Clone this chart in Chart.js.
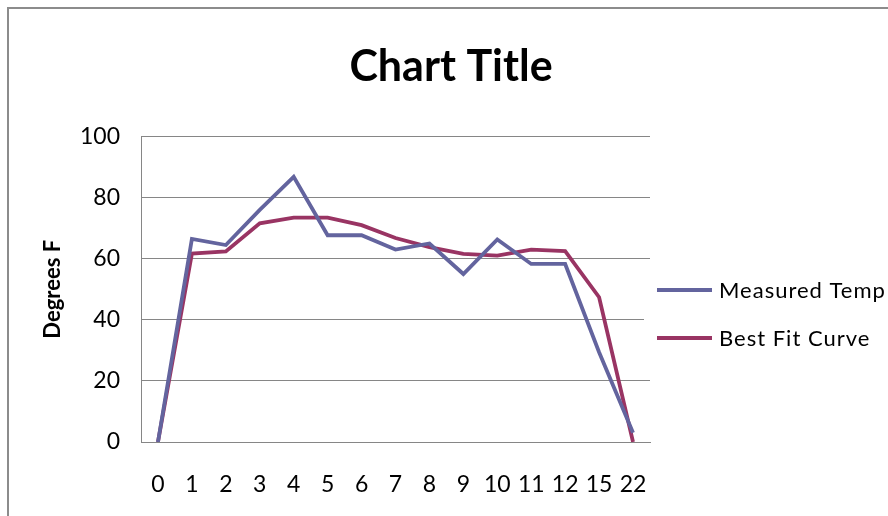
<!DOCTYPE html>
<html>
<head>
<meta charset="utf-8">
<script src="https://cdn.jsdelivr.net/npm/chart.js@4/dist/chart.umd.min.js"></script>
<style>
  html, body { margin: 0; padding: 0; background: #fff; overflow: hidden; }
  #wrap { position: relative; width: 888px; height: 516px; }
  #frame { position: absolute; left: 7px; top: 7px; width: 900px; height: 520px;
           border-left: 2px solid #8c8c8c; border-top: 2px solid #8c8c8c; }
  canvas { position: absolute; left: 0; top: 0; }
</style>
</head>
<body>
<div id="wrap">
  <div id="frame"></div>
  <canvas id="myChart" width="888" height="516"></canvas>
</div>
<script>
// values
const hours = ['0', '1', '2', '3', '4', '5', '6', '7', '8', '9', '10', '11', '12', '15', '22'];
const measuredTemp = [0, 66.5, 64.5, 76, 86.8, 67.7, 67.7, 63, 65, 55, 66.3, 58.3, 58.3, 29.4, 3];
const bestFit = [0, 61.7, 62.4, 71.6, 73.5, 73.5, 71, 66.8, 63.8, 61.6, 61, 63, 62.5, 47.4, 0];
const yTicks = [0, 20, 40, 60, 80, 100];

const FONT = 'Lato, Calibri, "Open Sans", sans-serif';
const GRID = '#868686';

// legend drawn like the office one: line swatch + label, clipped at the right edge
const sideLegend = {
    id: 'sideLegend',
    afterDraw(chart) {
        const ctx = chart.ctx;
        ctx.save();
        ctx.fillStyle = '#fff';
        ctx.fillRect(644, 268, 250, 94);
        chart.data.datasets.forEach((ds, i) => {
            const y = 290 + i * 48;
            ctx.strokeStyle = ds.borderColor;
            ctx.lineWidth = 3.8;
            ctx.beginPath();
            ctx.moveTo(657, y);
            ctx.lineTo(712, y);
            ctx.stroke();
            ctx.fillStyle = '#000';
            ctx.font = '22px ' + FONT;
            ctx.letterSpacing = '1px';
            ctx.textBaseline = 'middle';
            ctx.fillText(ds.label, 719, y + 1);
        });
        ctx.restore();
    }
};

const ctx = document.getElementById('myChart').getContext('2d');
new Chart(ctx, {
    type: 'line',
    data: {
        labels: hours,
        datasets: [
            {
                label: 'Measured Temp',
                data: measuredTemp,
                borderColor: '#63649e',
                backgroundColor: '#63649e',
                borderWidth: 3.8,
                pointRadius: 0,
                tension: 0,
                fill: false
            },
            {
                label: 'Best Fit Curve',
                data: bestFit,
                borderColor: '#993463',
                backgroundColor: '#993463',
                borderWidth: 3.8,
                pointRadius: 0,
                tension: 0,
                fill: false
            }
        ]
    },
    options: {
        responsive: false,
        animation: false,
        layout: { padding: { left: 14, right: 0, top: 0, bottom: 0 } },
        plugins: {
            legend: { display: false },
            tooltip: { enabled: false },
            title: {
                display: true,
                text: 'Chart Title',
                color: '#000',
                font: { family: FONT, size: 43, weight: 'bold', lineHeight: 1.2 },
                padding: { top: 41, bottom: 44 }
            }
        },
        scales: {
            x: {
                type: 'category',
                offset: true,
                grid: { display: false, drawTicks: false },
                border: { display: true, color: GRID, width: 1 },
                ticks: {
                    color: '#000',
                    font: { family: FONT, size: 23 },
                    padding: 29,
                    maxRotation: 0,
                    autoSkip: false
                },
                afterFit(scale) { scale.height = 74; }
            },
            y: {
                min: 0,
                max: 100,
                afterBuildTicks(scale) { scale.ticks = yTicks.map(v => ({ value: v })); },
                grid: { color: GRID, lineWidth: 1, drawTicks: false },
                border: { display: true, color: GRID, width: 1 },
                ticks: {
                    color: '#000',
                    font: { family: FONT, size: 23 },
                    padding: 21
                },
                title: {
                    display: true,
                    text: 'Degrees F',
                    color: '#000',
                    font: { family: FONT, size: 22, weight: 'bold', lineHeight: 1.2 },
                    padding: { top: 26, bottom: 0 }
                },
                afterFit(scale) { scale.width = 127; }
            },
            side: {
                type: 'linear',
                position: 'right',
                display: true,
                grid: { display: false, drawTicks: false },
                border: { display: false },
                ticks: { display: false },
                afterFit(scale) { scale.width = 238; }
            }
        }
    },
    plugins: [sideLegend]
});
</script>
</body>
</html>
